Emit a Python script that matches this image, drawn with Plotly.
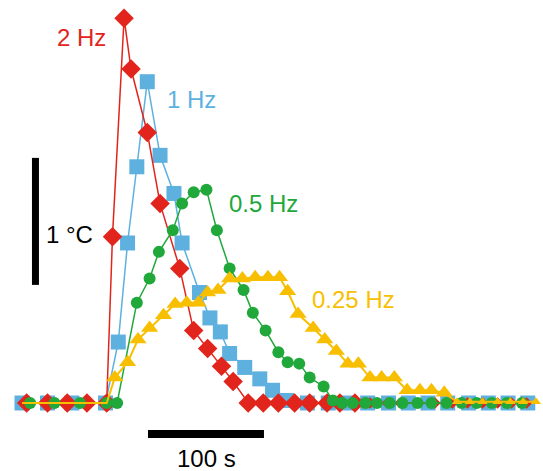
import plotly.graph_objects as go

# ---- data (time in s, temperature change in °C) ----
t_2hz = [4, 22, 39, 56, 73, 78, 88, 94, 108, 119, 136, 148, 160, 172, 182, 195, 208, 221,
         235, 248, 263, 274, 287, 300, 315, 326, 341, 356, 371, 384, 397, 410, 422, 435]
T_2hz = [0, 0, 0, 0, 0, 1.31, 3.03, 2.63, 2.13, 1.57, 1.06, 0.57, 0.43, 0.29, 0.17, 0, 0, 0,
         0, 0, 0, 0, 0, 0, 0, 0, 0, 0, 0, 0, 0, 0, 0, 0]

t_1hz = [0, 22, 43, 72, 83, 91, 99, 108, 119, 131, 138, 153, 162, 171, 179, 192, 205, 216,
         228, 246, 264, 281, 298, 316, 333, 350, 367, 385, 402, 419, 436]
T_1hz = [0, 0, 0, 0, 0.48, 1.26, 1.86, 2.53, 1.95, 1.65, 1.26, 0.87, 0.67, 0.56, 0.39, 0.28, 0.19, 0.10,
         0.02, 0, 0, 0, 0, 0, 0, 0, 0, 0, 0, 0, 0]

t_05hz = [7, 28, 50, 73, 82, 99, 110, 118, 130, 138, 148, 159, 168, 179, 191, 199, 210, 221,
          229, 239, 248, 260, 268, 276, 285, 296, 306, 317, 328, 341, 353, 366, 379, 392, 405, 418, 431]
T_05hz = [0, 0, 0, 0, 0, 0.79, 0.98, 1.19, 1.36, 1.57, 1.66, 1.68, 1.36, 1.06, 0.89, 0.71, 0.57, 0.40,
          0.32, 0.31, 0.20, 0.13, 0.02, 0, 0, 0, 0, 0, 0, 0, 0, 0, 0, 0, 0, 0, 0]

t_025hz = [0, 22, 43, 65, 73, 80, 91, 100, 110, 122, 132, 142, 152, 160, 169, 179, 190, 201, 212,
           222, 229, 238, 251, 261, 271, 281, 290, 300, 310, 321, 332, 343, 353, 364, 375, 386,
           397, 410, 421, 432, 443]
T_025hz = [0, 0, 0, 0, 0, 0.20, 0.32, 0.50, 0.59, 0.69, 0.78, 0.79, 0.79, 0.87, 0.89, 0.98, 0.98, 0.99, 0.99,
           0.99, 0.88, 0.70, 0.59, 0.50, 0.41, 0.31, 0.31, 0.20, 0.20, 0.20, 0.10, 0.10, 0.10, 0.08, 0.01, 0.01,
           0.01, 0.01, 0.01, 0.01, 0.01]

labels = ["2 Hz", "1 Hz", "0.5 Hz", "0.25 Hz"]
scale_time_label = "100 s"
scale_temp_label = "1 °C"

RED = "#e2251c"
BLUE = "#5eb1df"
GREEN = "#20a83b"
YELLOW = "#f8bf00"

W, H = 543, 471
X0, SX = 22, 1.16     # px of t=0, px per second
Y0, SY = 403, 127     # px of T=0, px per °C

fig = go.Figure()

common = dict(mode="lines+markers", cliponaxis=False)
fig.add_trace(go.Scatter(x=t_1hz, y=T_1hz, line=dict(color=BLUE, width=1.5),
                         marker=dict(symbol="square", size=15, color=BLUE, opacity=1,
                                     line=dict(width=0)), **common))
rsizes = [9 if t > 290 else 15 for t in t_2hz]
fig.add_trace(go.Scatter(x=t_2hz, y=T_2hz, line=dict(color=RED, width=1.5),
                         marker=dict(symbol="diamond", size=rsizes, color=RED, opacity=1,
                                     line=dict(width=0)), **common))
fig.add_trace(go.Scatter(x=t_05hz, y=T_05hz, line=dict(color=GREEN, width=1.5),
                         marker=dict(symbol="circle", size=12, color=GREEN, opacity=1,
                                     line=dict(width=0)), **common))
ysizes = [0 if t < 75 else (9 if (t > 370 and v < 0.05) else 15) for t, v in zip(t_025hz, T_025hz)]
fig.add_trace(go.Scatter(x=t_025hz, y=T_025hz, line=dict(color=YELLOW, width=2),
                         marker=dict(symbol="triangle-up", size=ysizes, color=YELLOW, opacity=1,
                                     line=dict(width=0)), **common))

# scale bars
fig.add_shape(type="line", x0=108.6, x1=208.6, y0=-0.244, y1=-0.244,
              line=dict(color="black", width=8))
fig.add_shape(type="line", x0=11.6, x1=11.6, y0=0.93, y1=1.93,
              line=dict(color="black", width=7))

FONT = "Liberation Sans, Arial, sans-serif"

def ann(text, px, py, color, anchor="left"):
    fig.add_annotation(x=px / W, y=1 - py / H, xref="paper", yref="paper",
                       text=text, showarrow=False, xanchor=anchor, yanchor="middle",
                       font=dict(family=FONT, size=24, color=color))

ann(labels[0], 55, 38, RED)
ann(labels[1], 165, 100, BLUE)
ann(labels[2], 227, 203, GREEN)
ann(labels[3], 310, 299, YELLOW)
ann(scale_temp_label, 44, 234, "black")
ann(scale_time_label, 206, 458, "black", anchor="center")

fig.update_layout(
    width=W, height=H, margin=dict(l=0, r=0, t=0, b=0),
    paper_bgcolor="white", plot_bgcolor="white", showlegend=False,
    xaxis=dict(range=[(0 - X0) / SX, (W - X0) / SX], visible=False, fixedrange=True),
    yaxis=dict(range=[(Y0 - H) / SY, Y0 / SY], visible=False, fixedrange=True),
)

fig.write_html("out.html", config={"displayModeBar": False},
               post_script="document.body.style.margin='0';document.body.style.overflow='hidden';")
